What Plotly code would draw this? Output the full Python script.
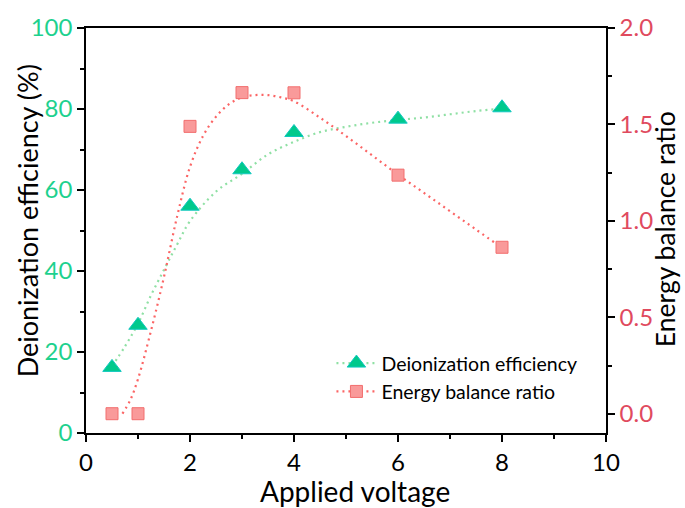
import plotly.graph_objects as go

# ---- data ----
voltage = [0.5, 1, 2, 3, 4, 6, 8]
deion_eff = [16.2, 26.6, 56, 65, 74.2, 77.5, 80.3]
energy_ratio = [0.0, 0.0, 1.49, 1.665, 1.664, 1.237, 0.863]

# fitted (smoothed) curves
green_fit_x = [0.5, 0.75, 1.0, 1.25, 1.5, 1.75, 2.0, 2.5, 3.0, 3.5, 4.0, 4.5, 5.0, 5.5, 6.0, 6.5, 7.0, 7.5, 8.0]
green_fit_y = [16.5, 21.4, 27.0, 34.0, 40.3, 46.5, 52.3, 59.6, 64.0, 68.8, 71.9, 74.3, 75.6, 76.6, 77.3, 77.9, 78.7, 79.5, 80.1]
red_fit_x = [0.7, 0.85, 1.0, 1.25, 1.5, 1.75, 2.0, 2.25, 2.5, 2.75, 3.0, 3.25, 3.5, 3.75, 4.0, 4.5, 5.0, 5.5, 6.0, 6.5, 7.0, 7.5, 8.0]
red_fit_y = [0.0, 0.07, 0.18, 0.43, 0.71, 1.02, 1.28, 1.44, 1.54, 1.605, 1.64, 1.652, 1.652, 1.64, 1.62, 1.535, 1.44, 1.34, 1.24, 1.145, 1.05, 0.955, 0.86]

x_ticks = [0, 2, 4, 6, 8, 10]
y1_ticks = [0, 20, 40, 60, 80, 100]
y2_ticks = [0.0, 0.5, 1.0, 1.5, 2.0]

GREEN_TXT = "#1dd18e"
GREEN_MK = "#00c98c"
GREEN_EDGE = "#10c8c0"
GREEN_LINE = "#8fe0a4"
RED_TXT = "#e04a5e"
RED_MK = "#f99a9a"
RED_EDGE = "#f26e6e"
RED_LINE = "#fb6565"
FONT = "Lato"
TICK_SIZE = 24

fig = go.Figure()

fig.add_trace(go.Scatter(x=green_fit_x, y=green_fit_y, mode="lines", line_shape="spline",
                         line=dict(color=GREEN_LINE, width=2.2, dash="2px,4px"),
                         showlegend=False, hoverinfo="skip"))
fig.add_trace(go.Scatter(x=red_fit_x, y=red_fit_y, mode="lines", line_shape="spline", yaxis="y2",
                         line=dict(color=RED_LINE, width=2.2, dash="2px,4px"),
                         showlegend=False, hoverinfo="skip"))

fig.add_trace(go.Scatter(x=voltage, y=deion_eff, mode="markers",
                         marker=dict(symbol="triangle-up", size=16, color=GREEN_MK,
                                     line=dict(color=GREEN_EDGE, width=1)),
                         showlegend=False))
fig.add_trace(go.Scatter(x=voltage, y=energy_ratio, mode="markers", yaxis="y2",
                         marker=dict(symbol="square", size=12, color=RED_MK,
                                     line=dict(color=RED_EDGE, width=1)),
                         showlegend=False))

# legend entries
fig.add_trace(go.Scatter(x=[None], y=[None], mode="lines+markers", name="Deionization efficiency",
                         line=dict(color=GREEN_LINE, width=2.2, dash="2px,4px"),
                         marker=dict(symbol="triangle-up", size=16, color=GREEN_MK,
                                     line=dict(color=GREEN_EDGE, width=1))))
fig.add_trace(go.Scatter(x=[None], y=[None], mode="lines+markers", name="Energy balance ratio",
                         yaxis="y2",
                         line=dict(color=RED_LINE, width=2.2, dash="2px,4px"),
                         marker=dict(symbol="square", size=12, color=RED_MK,
                                     line=dict(color=RED_EDGE, width=1))))

fig.update_layout(
    width=685, height=508,
    margin=dict(l=86, r=79, t=20, b=75),
    paper_bgcolor="white", plot_bgcolor="white",
    font=dict(family=FONT, size=22, color="black"),
    xaxis=dict(range=[0, 10], tickvals=x_ticks, ticktext=[str(v) for v in x_ticks],
               showgrid=False, zeroline=False, showline=True, linecolor="black", linewidth=1.5,
               mirror=True, ticks="outside", ticklen=7, tickwidth=1.5, tickcolor="black",
               minor=dict(dtick=1, ticks="outside", ticklen=4, tickwidth=1.5, tickcolor="black"),
               tickfont=dict(size=TICK_SIZE, color="black")),
    yaxis=dict(range=[0, 100], tickvals=y1_ticks, ticktext=[str(v) for v in y1_ticks],
               showgrid=False, zeroline=False, showline=True, linecolor="black", linewidth=1.5,
               ticks="outside", ticklen=7, tickwidth=1.5, tickcolor="black",
               minor=dict(dtick=10, ticks="outside", ticklen=4, tickwidth=1.5, tickcolor="black"),
               tickfont=dict(size=TICK_SIZE, color=GREEN_TXT)),
    yaxis2=dict(range=[-0.1, 2.0], overlaying="y", side="right", tickvals=y2_ticks,
                ticktext=[f"{v:.1f}" for v in y2_ticks],
                showgrid=False, zeroline=False, showline=True, linecolor="black", linewidth=1.5,
                ticks="outside", ticklen=7, tickwidth=1.5, tickcolor="black",
                minor=dict(dtick=0.25, ticks="outside", ticklen=4, tickwidth=1.5, tickcolor="black"),
                tickfont=dict(size=TICK_SIZE, color=RED_TXT)),
    legend=dict(x=0.472, y=0.22, xanchor="left", yanchor="top", bgcolor="rgba(0,0,0,0)",
                font=dict(size=19.5, color="black"), tracegroupgap=0, itemwidth=40),
    showlegend=True,
)

fig.add_annotation(text="Deionization efficiency (%)", xref="paper", yref="paper",
                   x=-0.1135, y=0.525, textangle=-90, showarrow=False,
                   font=dict(size=27, color="black"), xanchor="center", yanchor="middle")
fig.add_annotation(text="Energy balance ratio", xref="paper", yref="paper",
                   x=1.114, y=0.504, textangle=-90, showarrow=False,
                   font=dict(size=26.5, color="black"), xanchor="center", yanchor="middle")
fig.add_annotation(text="Applied voltage", xref="paper", yref="paper",
                   x=0.518, y=-0.142, showarrow=False,
                   font=dict(size=28, color="black"), xanchor="center", yanchor="middle")

fig.write_html("out.html")
